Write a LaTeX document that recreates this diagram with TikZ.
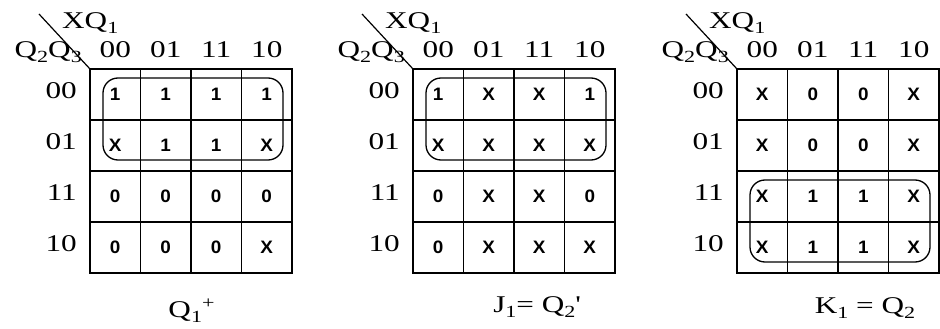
\documentclass[tikz,border=0pt]{standalone}
\usepackage{fontspec}
\setmainfont{Liberation Serif}[FakeStretch=1.3]
\newfontfamily\entryfont{Liberation Sans}[FakeStretch=1.05]
\newcommand\lo[1]{\raisebox{-5pt}{\fontsize{17}{17}\selectfont #1}}
\newcommand\hi[1]{\raisebox{9pt}{\fontsize{17}{17}\selectfont #1}}

\tikzset{
  kgrid/.style={line width=1.5pt},
  kloop/.style={line width=1.3pt, rounded corners=15pt},
  kentry/.style={font=\entryfont\bfseries\fontsize{18}{20}\selectfont, inner sep=0pt},
  klabel/.style={font=\fontsize{24}{26}\selectfont, inner sep=0pt},
}

\begin{document}
\begin{tikzpicture}[x=1pt,y=-1pt]
  \useasboundingbox (0,0) rectangle (940,329);

  % Maps: number / left edge / first grouped row / entries
  \foreach \m/\ox/\lr/\cells in {
      1/90/0/{1,1,1,1,X,1,1,X,0,0,0,0,0,0,0,X},
      2/413/0/{1,X,X,1,X,X,X,X,0,X,X,0,0,X,X,X},
      3/737/2/{X,0,0,X,X,0,0,X,X,1,1,X,X,1,1,X}}{
    % Grid
    \coordinate (m\m-nw) at (\ox,69);
    \draw[kgrid] (m\m-nw) rectangle ++(202,204);
    \foreach \k in {1,2,3}{
      \draw[kgrid] ({\ox+50.5*\k},69) -- ++(0,204);
      \draw[kgrid] (\ox,{69+51*\k}) -- ++(202,0);
    }
    % Corner
    \coordinate (m\m-tip) at ({\ox-51},14);
    \draw[line width=1.2pt] (m\m-tip) -- (m\m-nw);
    \node[klabel, anchor=base west] (m\m-col) at ({\ox-28},29) {XQ\lo{1}};
    \node[klabel, anchor=base east] (m\m-row) at ({\ox-8},58) {Q\lo{2}Q\lo{3}};
    % Headings
    \foreach \g [count=\i from 0] in {00,01,11,10}{
      \node[klabel, anchor=base] (m\m-c\i) at ({\ox+25.25+50.5*\i},58) {\g};
      \node[klabel, anchor=east] (m\m-r\i) at ({\ox-13},{91+51*\i}) {\g};
    }
    % Entries
    \foreach \v [count=\i from 0] in \cells{
      \pgfmathtruncatemacro{\r}{div(\i,4)}
      \pgfmathtruncatemacro{\c}{mod(\i,4)}
      \node[kentry] (m\m-\r\c) at ({\ox+25.25+50.5*\c},{94+51*\r}) {\v};
    }
    % Group
    \draw[kloop] ({\ox+13},{78+51*\lr}) rectangle ({\ox+193},{160+51*\lr});
  }

  % Functions
  \node[klabel, anchor=base] (f1) at (191.5,317) {Q\lo{1}\hi{+}};
  \node[klabel, anchor=base] (f2) at (536.5,312) {J\lo{1}= Q\lo{2}\textquotesingle};
  \node[klabel, anchor=base] (f3) at (865,313) {K\lo{1} = Q\lo{2}};
\end{tikzpicture}
\end{document}
